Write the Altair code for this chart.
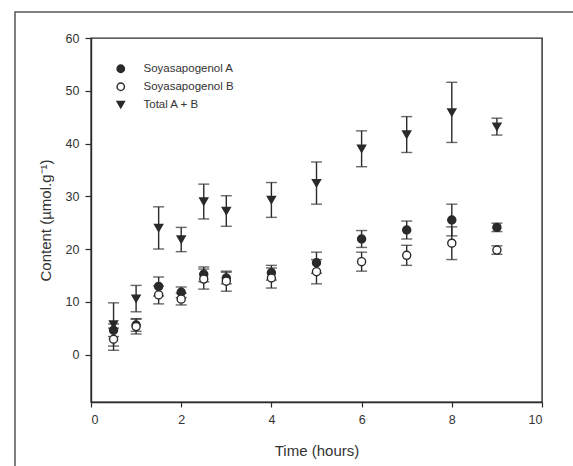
import altair as alt
import pandas as pd

times = [0.5, 1, 1.5, 2, 2.5, 3, 4, 5, 6, 7, 8, 9]
series_names = ["Soyasapogenol A", "Soyasapogenol B", "Total A + B"]

sapA = [4.6, 5.6, 12.9, 11.8, 15.2, 14.5, 15.5, 17.4, 21.9, 23.6, 25.5, 24.1]
sapA_err = [1.2, 1.2, 1.8, 1.0, 1.4, 1.1, 1.4, 2.0, 1.6, 1.7, 3.0, 0.8]
sapB = [2.9, 5.3, 11.3, 10.5, 14.3, 13.9, 14.5, 15.7, 17.6, 18.8, 21.1, 19.8]
sapB_err = [2.1, 1.4, 1.7, 1.1, 1.9, 1.9, 1.9, 2.3, 1.8, 1.9, 3.1, 0.8]
total = [5.7, 10.6, 24.0, 21.8, 29.0, 27.2, 29.3, 32.5, 39.0, 41.7, 45.9, 43.2]
total_err = [4.1, 2.5, 4.0, 2.3, 3.3, 2.9, 3.3, 4.0, 3.4, 3.4, 5.7, 1.6]

x_ticks = [0, 2, 4, 6, 8, 10]
y_ticks = [0, 10, 20, 30, 40, 50, 60]

rows = []
for name, vals, errs in zip(series_names, [sapA, sapB, total], [sapA_err, sapB_err, total_err]):
    for t, v, e in zip(times, vals, errs):
        rows.append({"time": t, "value": v, "lo": v - e, "hi": v + e, "series": name})
df = pd.DataFrame(rows)

ink = "#2a2a2a"
xscale = alt.Scale(domain=[0, 10], nice=False, zero=False)
yscale = alt.Scale(domain=[-9, 60], nice=False, zero=False)

xax = alt.Axis(values=x_ticks, title="Time (hours)", grid=False, tickSize=5,
               labelPadding=6, titlePadding=18, format="d")
yax = alt.Axis(values=y_ticks, title="Content (µmol.g⁻¹)", grid=False, tickSize=6,
               labelPadding=6, titleX=-46, titleY=182, titleAngle=-90,
               titleBaseline="middle")

base = alt.Chart(df)

rules = base.mark_rule(color=ink, strokeWidth=1.4).encode(
    x=alt.X("time:Q", scale=xscale, axis=xax),
    y=alt.Y("lo:Q", scale=yscale, axis=yax),
    y2="hi:Q",
)
caps_lo = base.mark_tick(orient="horizontal", size=11, thickness=1.4, color=ink).encode(
    x=alt.X("time:Q", scale=xscale), y=alt.Y("lo:Q", scale=yscale))
caps_hi = base.mark_tick(orient="horizontal", size=11, thickness=1.4, color=ink).encode(
    x=alt.X("time:Q", scale=xscale), y=alt.Y("hi:Q", scale=yscale))

leg = alt.Legend(title=None, orient="none", legendX=24, legendY=25,
                 labelFontSize=11.5, labelColor="#333",
                 labelFont="Liberation Sans", symbolSize=55,
                 symbolStrokeWidth=1.4, rowPadding=4, labelOffset=17)

points = base.mark_point(filled=False, strokeWidth=1.4, opacity=1, size=65).encode(
    x=alt.X("time:Q", scale=xscale),
    y=alt.Y("value:Q", scale=yscale),
    shape=alt.Shape("series:N",
                    scale=alt.Scale(domain=series_names, range=["circle", "circle", "triangle-down"]),
                    legend=leg),
    fill=alt.Fill("series:N",
                  scale=alt.Scale(domain=series_names, range=[ink, "white", ink]),
                  legend=leg),
    stroke=alt.Stroke("series:N",
                      scale=alt.Scale(domain=series_names, range=[ink, ink, ink]),
                      legend=leg),
)

frame = alt.Chart(pd.DataFrame({"k": [0]})).mark_rect(
    fill="transparent", stroke="#555", strokeWidth=1.5
).encode(x=alt.value(-76), x2=alt.value(540), y=alt.value(-26), y2=alt.value(460))

chart = alt.layer(frame, rules, caps_lo, caps_hi, points).properties(
    width=451, height=364,
    autosize=alt.AutoSizeParams(type="none"),
    padding={"left": 91, "top": 38, "right": 31, "bottom": 64},
    background="white",
).configure_view(stroke=ink, strokeWidth=1.4).configure_axis(
    domainColor=ink, domainWidth=1.4, tickColor=ink, tickWidth=1.2,
    labelFont="Liberation Sans", titleFont="Liberation Sans",
    labelFontSize=12.5, titleFontSize=15, labelColor="#333", titleColor="#333",
    titleFontWeight="normal",
)

chart.save("out.html", embed_options={"renderer": "svg", "actions": False})
